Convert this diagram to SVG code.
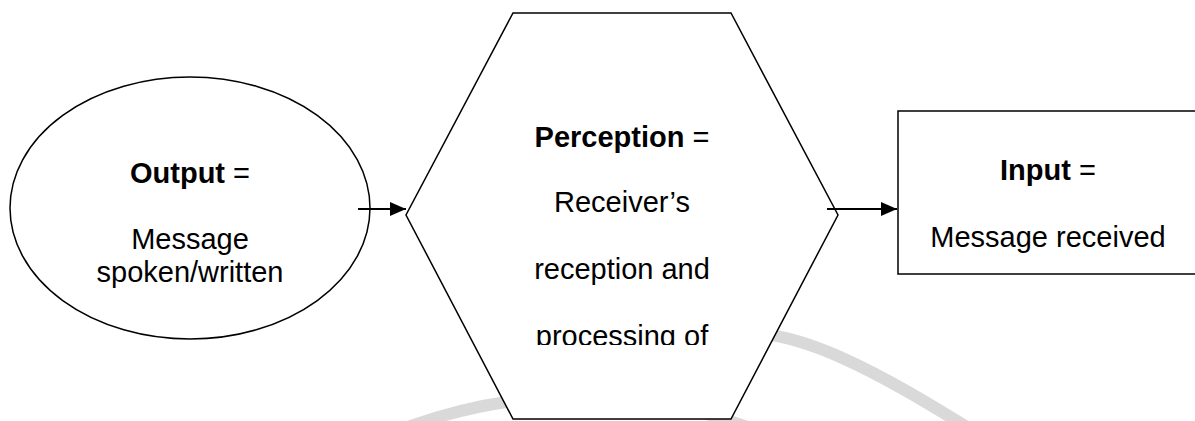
<svg xmlns="http://www.w3.org/2000/svg" width="1195" height="421" viewBox="0 0 1195 421">
  <style>
    .shape { fill: #ffffff; stroke: #000000; stroke-width: 1.5; }
    .lbl { font-family: "Liberation Sans", Arial, sans-serif; font-size: 29px; fill: #000000; text-anchor: middle; }
    .b { font-weight: bold; }
    .conn { stroke: #000000; stroke-width: 2; fill: none; marker-end: url(#arrow); }
    .wm { stroke: #d9d9d9; stroke-width: 12; fill: none; }
  </style>
  <defs>
    <marker id="arrow" markerUnits="userSpaceOnUse" markerWidth="16" markerHeight="14" refX="16" refY="7" orient="auto">
      <path d="M0,0 L16,7 L0,14 z" fill="#000000"/>
    </marker>
    <clipPath id="hexclip">
      <rect x="400" y="0" width="450" height="345"/>
    </clipPath>
  </defs>
  <rect width="1195" height="421" fill="#ffffff"/>
  <g id="watermark">
    <path class="wm" d="M405,428 Q578,365 750,428"/>
    <path class="wm" d="M720,336 C790,318 890,380 975,432"/>
  </g>
  <g id="output">
    <ellipse class="shape" cx="190" cy="208" rx="180" ry="131"/>
    <text class="lbl" x="190" y="183"><tspan class="b">Output</tspan> =</text>
    <text class="lbl" x="190" y="249">Message</text>
    <text class="lbl" x="190" y="282">spoken/written</text>
  </g>
  <g id="perception">
    <polygon class="shape" points="513,13 731,13 838,215 731,419 513,419 406,215"/>
    <g clip-path="url(#hexclip)">
      <text class="lbl" x="622" y="147"><tspan class="b">Perception</tspan> =</text>
      <text class="lbl" x="622" y="212">Receiver’s</text>
      <text class="lbl" x="622" y="279">reception and</text>
      <text class="lbl" x="622" y="346">processing of</text>
    </g>
  </g>
  <g id="input">
    <rect class="shape" x="898" y="111" width="300" height="163"/>
    <text class="lbl" x="1048" y="180"><tspan class="b">Input</tspan> =</text>
    <text class="lbl" x="1048" y="247">Message received</text>
  </g>
  <g id="connectors">
    <line class="conn" x1="358" y1="209" x2="406" y2="209"/>
    <line class="conn" x1="827" y1="209" x2="897" y2="209"/>
  </g>
</svg>
